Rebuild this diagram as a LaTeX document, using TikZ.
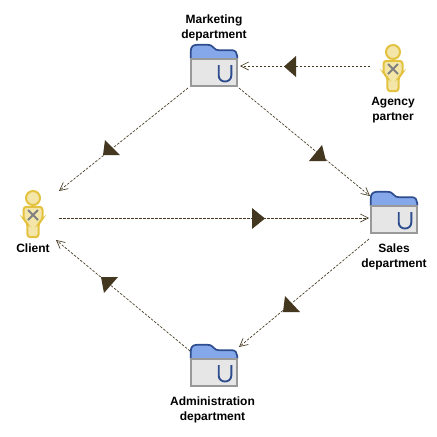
\documentclass[tikz,border=0pt]{standalone}
\usepackage{fontspec}
\setmainfont{Liberation Sans}
\usetikzlibrary{arrows.meta,calc}
\definecolor{flow}{HTML}{43371F}
\definecolor{tabfill}{HTML}{84A8EA}
\definecolor{tabline}{HTML}{2E4D8E}
\definecolor{bodyfill}{HTML}{E6E6E6}
\definecolor{bodyline}{HTML}{999999}
\definecolor{actfill}{HTML}{F3E6A8}
\definecolor{actline}{HTML}{E3C23F}
\definecolor{actx}{HTML}{808080}
\tikzset{
  lbl/.style={font=\fontsize{12}{15}\selectfont\bfseries,align=center,inner sep=0pt,text=black},
  hold/.style={rectangle,inner sep=0pt,outer sep=0pt,anchor=north west},
  conn/.style={draw=flow,line width=0.65pt,dash pattern=on 2.5pt off 1.5pt,-{Straight Barb[length=8pt,width=8pt,line width=0.65pt]}},
  flowmark/.style={fill=flow,draw=none},
}
\newcommand{\folderat}[3]{%
  \begin{scope}[shift={(#2,#3)}]
    \node[hold,minimum width=48pt,minimum height=43pt] (#1) at (0,0) {};
    \fill[bodyfill] (0,15) rectangle (48,43);
    \draw[bodyline,line width=1.8pt] (0.9,15) -- (0.9,42.1) -- (47.1,42.1) -- (47.1,15);
    \draw[tabline,fill=tabfill,line width=1.7pt,line join=round]
      (0.8,15) -- (0.8,7) .. controls (0.8,3) and (3,0.8) .. (7,0.8) -- (17,0.8)
      .. controls (21,0.8) and (22,2) .. (24,4) .. controls (25.5,5.6) and (26.5,6.2) .. (29,6.2)
      -- (42,6.2) .. controls (45.5,6.2) and (47.2,9) .. (47.2,12) -- (47.2,15) -- cycle;
    \draw[bodyline,line width=1.8pt] (0,15.2) -- (48,15.2);
    \draw[tabline,line width=1.9pt] (28.7,21) -- (28.7,31.5)
      .. controls (28.7,39.5) and (41.3,39.5) .. (41.3,31.5) -- (41.3,21);
  \end{scope}}
\newcommand{\actorat}[3]{%
  \begin{scope}[shift={(#2,#3)}]
    \node[hold,minimum width=22pt,minimum height=48pt] (#1) at (-11,-16) {};
    \draw[actline,fill=actfill,line width=2pt] (0,-8) circle[radius=7];
    \draw[actline,fill=actfill,line width=2pt,rounded corners=3pt]
      (-9.5,0.8) -- (9.5,0.8) -- (9.5,13.5) -- (5.6,17) -- (5.6,31.2) -- (-5.6,31.2) -- (-5.6,17) -- (-9.5,13.5) -- cycle;
    \draw[actx,line width=1.8pt] (-5,4) -- (5,14) (-5,14) -- (5,4);
  \end{scope}}
\begin{document}
\begin{tikzpicture}[x=1pt,y=-1pt]
\useasboundingbox (0,0) rectangle (437,437);
\fill[white] (0,0) rectangle (437,437);

\folderat{mk}{190}{44}
\folderat{sl}{370}{191}
\folderat{ad}{190}{344}
\actorat{ag}{393}{60}
\actorat{cl}{33}{206}

\node[lbl] (mkl) at (214,28) {Marketing\\department};
\node[lbl] (agl) at (393,110) {Agency\\partner};
\node[lbl] (cll) at (33,248.5) {Client};
\node[lbl] (sll) at (394,257) {Sales\\department};
\node[lbl] (adl) at (212.5,410) {Administration\\department};

\draw[conn] ($(ag.west)+(-12,-2)$) -- ($(mk.east)+(2,0.5)$);
\draw[conn] ($(mk.south west)+(-2,1)$) -- ($(cl.north east)+(15,1)$);
\draw[conn] ($(mk.south east)+(1,1)$) -- ($(sl.north west)+(0,5)$);
\draw[conn] ($(cl.east)+(15,4)$) -- ($(sl.west)+(-1,5.5)$);
\draw[conn] ($(sl.south west)+(-1,5)$) -- ($(ad.north east)+(1,3)$);
\draw[conn] ($(ad.north west)+(0,7)$) -- ($(cl.south east)+(12,2)$);

\path[flowmark] (296,56) -- (296,77) -- (284,66.5) -- cycle;
\path[flowmark] (105,140) -- (103,155) -- (120,155) -- cycle;
\path[flowmark] (322,145) -- (309,161) -- (326,161) -- cycle;
\path[flowmark] (252,208) -- (252,229) -- (265,218.5) -- cycle;
\path[flowmark] (285,296) -- (283,312) -- (300,312) -- cycle;
\path[flowmark] (101,277) -- (118,277) -- (104,293) -- cycle;
\end{tikzpicture}
\end{document}
